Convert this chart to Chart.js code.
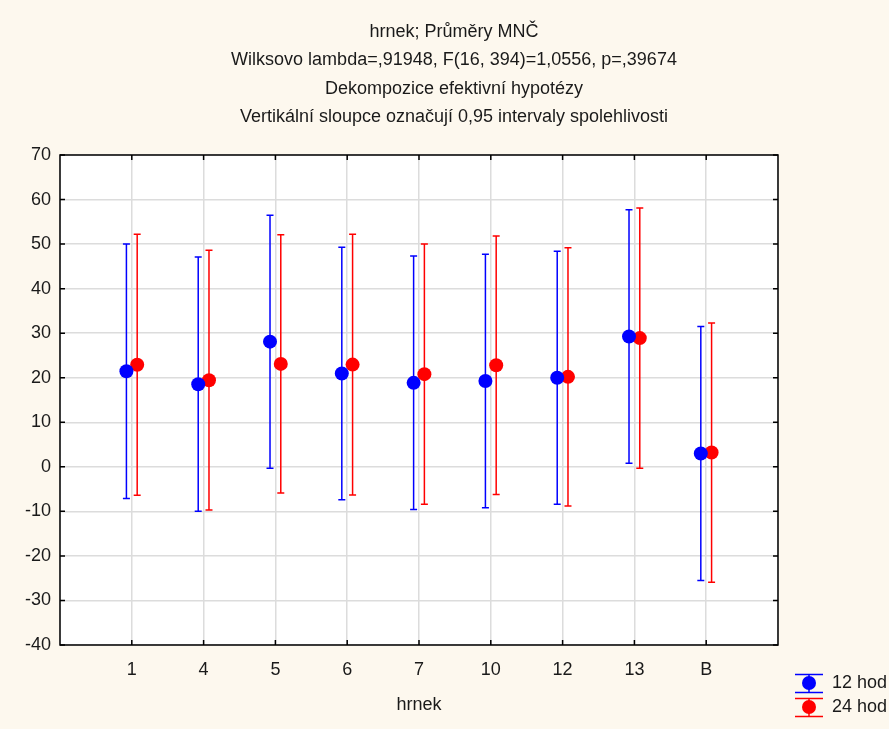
<!DOCTYPE html>
<html>
<head>
<meta charset="utf-8">
<script src="https://cdn.jsdelivr.net/npm/chart.js@4.4.0/dist/chart.umd.min.js"></script>
<style>
  html, body { margin: 0; padding: 0; background: #FDF8EE; }
  #obal { width: 889px; height: 729px; }
</style>
</head>
<body>
<div id="obal"><canvas id="graf" width="889" height="729"></canvas></div>
<script>
// hrnek - průměry MNČ s 95% intervaly spolehlivosti
const kategorie = ["1", "4", "5", "6", "7", "10", "12", "13", "B"];

const prumer12 = [21.45, 18.55, 28.1, 20.95, 18.85, 19.25, 20.0, 29.25, 3.0];
const dolni12  = [-7.1, -10.0, -0.3, -7.4, -9.6, -9.2, -8.4, 0.8, -25.5];
const horni12  = [50.0, 47.1, 56.5, 49.3, 47.3, 47.7, 48.4, 57.7, 31.5];

const prumer24 = [22.9, 19.45, 23.1, 22.95, 20.8, 22.8, 20.2, 28.9, 3.2];
const dolni24  = [-6.4, -9.7, -5.9, -6.3, -8.4, -6.2, -8.8, -0.3, -25.9];
const horni24  = [52.2, 48.6, 52.1, 52.2, 50.0, 51.8, 49.2, 58.1, 32.3];

const yTicky = [-40, -30, -20, -10, 0, 10, 20, 30, 40, 50, 60, 70];

const nadpis = [
    "hrnek; Průměry MNČ",
    "Wilksovo lambda=,91948, F(16, 394)=1,0556, p=,39674",
    "Dekompozice efektivní hypotézy",
    "Vertikální sloupce označují 0,95 intervaly spolehlivosti"
];

const pismo = "'Liberation Sans', Arial, sans-serif";
const barvaTextu = "#1a1a1a";
const modra = "#0000FF";
const cervena = "#FF0000";
const posun = 0.075;

let body = (prumery, dx) => prumery.map((v, i) => ({ x: i + 1 + dx, y: v }));

// pozadí, bílá plocha grafu a nadpis
const pozadi = {
    id: "pozadi",
    beforeDraw(chart) {
        const { ctx, chartArea: a } = chart;
        ctx.save();
        ctx.fillStyle = "#FDF8EE";
        ctx.fillRect(0, 0, chart.width, chart.height);
        ctx.fillStyle = "#FFFFFF";
        ctx.fillRect(a.left, a.top, a.right - a.left, a.bottom - a.top);

        ctx.fillStyle = barvaTextu;
        ctx.font = "18px " + pismo;
        ctx.textAlign = "center";
        ctx.textBaseline = "middle";
        nadpis.forEach((radek, i) => {
            ctx.fillText(radek, 454, 32 + i * 28.5);
        });
        ctx.restore();
    }
};

// svislé úsečky intervalů
const intervaly = {
    id: "intervaly",
    beforeDatasetsDraw(chart) {
        const { ctx, scales: { x, y } } = chart;
        ctx.save();
        chart.data.datasets.forEach(ds => {
            ctx.strokeStyle = ds.borderColor;
            ctx.lineWidth = 1.5;
            ds.data.forEach((bod, i) => {
                const px = x.getPixelForValue(bod.x);
                const y1 = y.getPixelForValue(ds.dolni[i]);
                const y2 = y.getPixelForValue(ds.horni[i]);
                ctx.beginPath();
                ctx.moveTo(px, y1);
                ctx.lineTo(px, y2);
                ctx.moveTo(px - 3.5, y1);
                ctx.lineTo(px + 3.5, y1);
                ctx.moveTo(px - 3.5, y2);
                ctx.lineTo(px + 3.5, y2);
                ctx.stroke();
            });
        });
        ctx.restore();
    }
};

// rámeček, vnitřní značky a legenda
const ramecek = {
    id: "ramecek",
    afterDraw(chart) {
        const { ctx, chartArea: a, scales: { x, y } } = chart;
        ctx.save();
        ctx.strokeStyle = "#000000";
        ctx.lineWidth = 1.5;
        ctx.strokeRect(a.left, a.top, a.right - a.left, a.bottom - a.top);
        ctx.beginPath();
        yTicky.forEach(v => {
            const py = y.getPixelForValue(v);
            ctx.moveTo(a.left, py); ctx.lineTo(a.left + 5, py);
            ctx.moveTo(a.right, py); ctx.lineTo(a.right - 5, py);
        });
        kategorie.forEach((k, i) => {
            const px = x.getPixelForValue(i + 1);
            ctx.moveTo(px, a.top); ctx.lineTo(px, a.top + 5);
            ctx.moveTo(px, a.bottom); ctx.lineTo(px, a.bottom - 5);
        });
        ctx.stroke();

        const polozky = [
            { text: "12 hod", barva: modra, y: 683 },
            { text: "24 hod", barva: cervena, y: 707 }
        ];
        polozky.forEach(p => {
            const cx = 809;
            ctx.strokeStyle = p.barva;
            ctx.fillStyle = p.barva;
            ctx.lineWidth = 1.5;
            ctx.beginPath();
            ctx.moveTo(cx - 14, p.y - 8.5); ctx.lineTo(cx + 14, p.y - 8.5);
            ctx.moveTo(cx - 14, p.y + 9.5); ctx.lineTo(cx + 14, p.y + 9.5);
            ctx.moveTo(cx, p.y - 8.5); ctx.lineTo(cx, p.y + 9.5);
            ctx.stroke();
            ctx.beginPath();
            ctx.arc(cx, p.y, 7, 0, Math.PI * 2);
            ctx.fill();
            ctx.fillStyle = barvaTextu;
            ctx.font = "18px " + pismo;
            ctx.textBaseline = "middle";
            ctx.textAlign = "left";
            ctx.fillText(p.text, 832, p.y);
        });
        ctx.restore();
    }
};

const mrizka = { color: "#DCDCDC", lineWidth: 1.5, drawTicks: false };

new Chart(document.getElementById("graf"), {
    type: "scatter",
    data: {
        datasets: [
            {
                label: "12 hod",
                data: body(prumer12, -posun),
                dolni: dolni12,
                horni: horni12,
                backgroundColor: modra,
                borderColor: modra,
                pointRadius: 7,
                pointBorderWidth: 0
            },
            {
                label: "24 hod",
                data: body(prumer24, posun),
                dolni: dolni24,
                horni: horni24,
                backgroundColor: cervena,
                borderColor: cervena,
                pointRadius: 7,
                pointBorderWidth: 0
            }
        ]
    },
    options: {
        responsive: false,
        animation: false,
        layout: { padding: { top: 155, right: 111, bottom: 0, left: 0 } },
        plugins: {
            legend: { display: false },
            tooltip: { enabled: false },
            title: { display: false }
        },
        scales: {
            x: {
                type: "linear",
                min: 0,
                max: 10,
                grid: mrizka,
                border: { display: false },
                ticks: {
                    stepSize: 1,
                    autoSkip: false,
                    maxRotation: 0,
                    padding: 14,
                    color: barvaTextu,
                    font: { family: pismo, size: 18 },
                    callback: v => kategorie[v - 1] ?? ""
                },
                title: {
                    display: true,
                    text: "hrnek",
                    color: barvaTextu,
                    font: { family: pismo, size: 18 },
                    padding: { top: 0, bottom: 13 }
                },
                afterFit: s => { s.height = 84; }
            },
            y: {
                min: -40,
                max: 70,
                grid: mrizka,
                border: { display: false },
                ticks: {
                    stepSize: 10,
                    padding: 9,
                    color: barvaTextu,
                    font: { family: pismo, size: 18 }
                },
                afterFit: s => { s.width = 60; }
            }
        }
    },
    plugins: [pozadi, intervaly, ramecek]
});
</script>
</body>
</html>
